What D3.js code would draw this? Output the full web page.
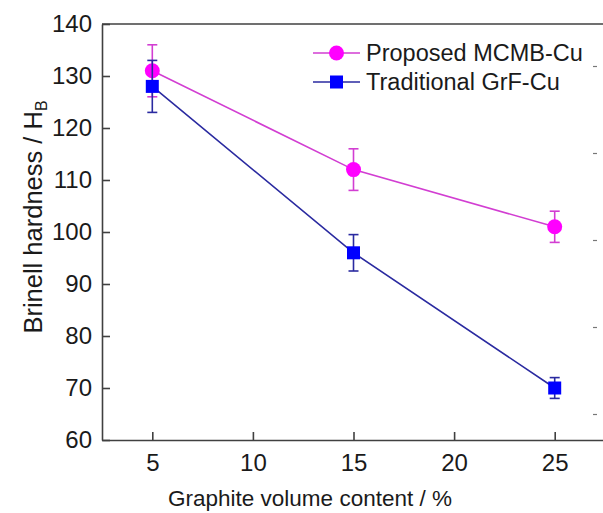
<!DOCTYPE html>
<html>
<head>
<meta charset="utf-8">
<script src="https://cdn.jsdelivr.net/npm/d3@7/dist/d3.min.js"></script>
<style>
  html, body { margin: 0; padding: 0; background: #fff; }
  svg { display: block; font-family: "Liberation Sans", Arial, sans-serif; }
</style>
</head>
<body>
<svg id="chart" width="603" height="513"></svg>
<script>
// Graphite volume fraction (%)
const graphiteContent = [5, 15, 25];

// Brinell hardness, mean and error half-width
const mcmbHardness = [131, 112, 101];
const mcmbError = [5, 4, 3];
const grfHardness = [128, 96, 70];
const grfError = [5, 3.5, 2];

const seriesNames = ["Proposed MCMB-Cu", "Traditional GrF-Cu"];
const xTicks = [5, 10, 15, 20, 25];
const yTicks = [60, 70, 80, 90, 100, 110, 120, 130, 140];
const edgeTicks = [0, 1, 2, 3, 4];

const svg = d3.select("#chart");
const axisColor = "#404040";
const textColor = "#1a1a1a";

const x = d3.scaleLinear().domain([2.5, 27.5]).range([102, 605]);
const y = d3.scaleLinear().domain([60, 140]).range([440, 24]);

const series = [
  { name: seriesNames[0], values: mcmbHardness, errors: mcmbError,
    line: "#d23ed2", fill: "#ff00ff", shape: "circle" },
  { name: seriesNames[1], values: grfHardness, errors: grfError,
    line: "#2a2aa0", fill: "#0000ff", shape: "square" }
];

// frame: top border
svg.append("line")
  .attr("x1", x.range()[0]).attr("x2", x.range()[1])
  .attr("y1", y.range()[1]).attr("y2", y.range()[1])
  .attr("stroke", axisColor).attr("stroke-width", 1.6);

// left axis, inward ticks
const yAxis = svg.append("g")
  .attr("transform", `translate(${x.range()[0]},0)`)
  .call(d3.axisLeft(y).tickValues(yTicks).tickSizeInner(-8).tickSizeOuter(0).tickPadding(10));
yAxis.select(".domain").attr("stroke", axisColor).attr("stroke-width", 1.6);
yAxis.selectAll(".tick line").attr("stroke", axisColor).attr("stroke-width", 1.6);
yAxis.selectAll(".tick text")
  .attr("font-size", 24).attr("fill", textColor)
  .attr("font-family", "Liberation Sans, Arial, sans-serif");

// bottom axis, inward ticks
const xAxis = svg.append("g")
  .attr("transform", `translate(0,${y.range()[0]})`)
  .call(d3.axisBottom(x).tickValues(xTicks).tickSizeInner(-8).tickSizeOuter(0).tickPadding(14));
xAxis.select(".domain").attr("stroke", axisColor).attr("stroke-width", 1.6);
xAxis.selectAll(".tick line").attr("stroke", axisColor).attr("stroke-width", 1.6);
xAxis.selectAll(".tick text")
  .attr("font-size", 24).attr("fill", textColor)
  .attr("font-family", "Liberation Sans, Arial, sans-serif");

// short tick marks along the right edge
const yEdge = d3.scaleLinear().domain([0, 4]).range([414, 66]);
const edgeAxis = svg.append("g")
  .attr("transform", "translate(597,0)")
  .call(d3.axisLeft(yEdge).tickValues(edgeTicks).tickSize(4).tickFormat(""));
edgeAxis.select(".domain").remove();
edgeAxis.selectAll(".tick line").attr("stroke", "#777").attr("stroke-width", 1.2);

// axis titles
svg.append("text")
  .attr("x", 310).attr("y", 506)
  .attr("text-anchor", "middle")
  .attr("font-size", 22.5).attr("fill", textColor)
  .text("Graphite volume content / %");

const yTitle = svg.append("text")
  .attr("transform", "translate(42,217) rotate(-90)")
  .attr("text-anchor", "middle")
  .attr("font-size", 25.5).attr("fill", textColor);
yTitle.append("tspan").text("Brinell hardness / H");
yTitle.append("tspan").attr("font-size", 16).attr("dy", 5).text("B");

const line = d3.line().x(d => x(d[0])).y(d => y(d[1]));

function drawMarker(g, shape, cx, cy, fill) {
  if (shape === "circle") {
    g.append("circle").attr("cx", cx).attr("cy", cy).attr("r", 7.5).attr("fill", fill);
  } else {
    g.append("rect").attr("x", cx - 6.5).attr("y", cy - 6.5)
      .attr("width", 13).attr("height", 13).attr("fill", fill);
  }
}

series.forEach(s => {
  const pts = graphiteContent.map((gc, i) => [gc, s.values[i], s.errors[i]]);
  const g = svg.append("g");

  g.append("path").datum(pts)
    .attr("d", line).attr("fill", "none")
    .attr("stroke", s.line).attr("stroke-width", 1.6);

  pts.forEach(p => {
    const cx = x(p[0]);
    const top = y(p[1] + p[2]), bot = y(p[1] - p[2]);
    g.append("line").attr("x1", cx).attr("x2", cx).attr("y1", top).attr("y2", bot)
      .attr("stroke", s.line).attr("stroke-width", 1.6);
    [top, bot].forEach(yy => {
      g.append("line").attr("x1", cx - 5).attr("x2", cx + 5).attr("y1", yy).attr("y2", yy)
        .attr("stroke", s.line).attr("stroke-width", 1.6);
    });
    drawMarker(g, s.shape, cx, y(p[1]), s.fill);
  });
});

// legend
const legend = svg.append("g");
series.forEach((s, i) => {
  const ly = 53 + i * 29;
  legend.append("line").attr("x1", 313).attr("x2", 360).attr("y1", ly).attr("y2", ly)
    .attr("stroke", s.line).attr("stroke-width", 1.6);
  drawMarker(legend, s.shape, 336.5, ly, s.fill);
  legend.append("text").attr("x", 366).attr("y", ly + 8)
    .attr("font-size", 23.5).attr("fill", textColor).text(s.name);
});
</script>
</body>
</html>
